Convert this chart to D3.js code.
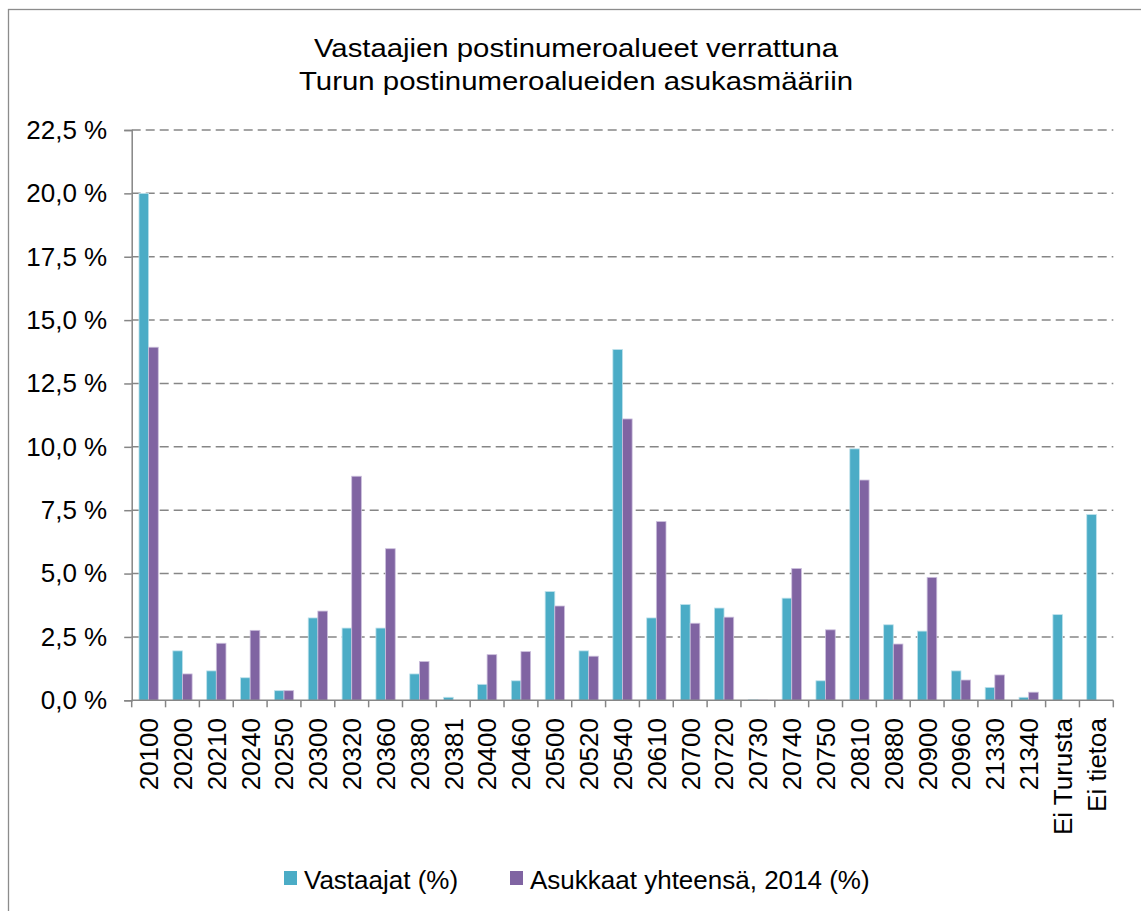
<!DOCTYPE html>
<html>
<head>
<meta charset="utf-8">
<script src="https://cdn.jsdelivr.net/npm/d3@7"></script>
<style>
  html, body { margin: 0; padding: 0; background: #fff; }
  svg { display: block; font-family: "Liberation Sans", Arial, sans-serif; }
</style>
</head>
<body>
<svg id="chart" width="1141" height="911"></svg>
<script>
const titleLines = ["Vastaajien postinumeroalueet verrattuna", "Turun postinumeroalueiden asukasmääriin"];
const categories = ["20100","20200","20210","20240","20250","20300","20320","20360","20380","20381",
  "20400","20460","20500","20520","20540","20610","20700","20720","20730","20740","20750","20810",
  "20880","20900","20960","21330","21340","Ei Turusta","Ei tietoa"];
const seriesNames = ["Vastaajat (%)", "Asukkaat yhteensä, 2014 (%)"];
const vastaajat = [20.0,1.95,1.16,0.89,0.38,3.25,2.85,2.85,1.04,0.12,0.63,0.77,4.29,1.95,13.84,3.25,3.78,3.64,0.02,4.03,0.77,9.92,2.98,2.73,1.16,0.51,0.12,3.38,7.33];
const asukkaat = [13.93,1.04,2.25,2.76,0.38,3.52,8.84,5.98,1.53,0,1.8,1.92,3.72,1.74,11.1,7.05,3.04,3.28,0.01,5.2,2.78,8.69,2.22,4.85,0.8,1.0,0.32,null,null];
const yTicks = [0, 2.5, 5, 7.5, 10, 12.5, 15, 17.5, 20, 22.5];
const colors = ["#4BACC6", "#8064A2"];
const strokes = ["#bfe2ec", "#cbbfdc"];

(function () {
const svg = d3.select("#chart");
const pLeft = 131.7, pRight = 1113.3, pTop = 130, pBottom = 700.3;
const axisColor = "#868686";

// outer border (right/bottom edges fall outside the picture)
svg.append("rect").attr("x", 8.5).attr("y", 9.5).attr("width", 1300).attr("height", 1100)
  .attr("fill", "none").attr("stroke", "#8c8c8c").attr("stroke-width", 1.3);

// title
const titleW = [524, 554];
const titleY = [57, 90];
titleLines.forEach((t, i) => {
  svg.append("text").attr("x", 576).attr("y", titleY[i]).attr("text-anchor", "middle")
    .attr("font-size", 26).attr("fill", "#000")
    .attr("textLength", titleW[i]).attr("lengthAdjust", "spacingAndGlyphs")
    .text(t);
});

const x0 = d3.scaleBand().domain(categories).range([pLeft, pRight]).paddingInner(0.43).paddingOuter(0.215);
const x1 = d3.scaleBand().domain([0, 1]).range([0, x0.bandwidth()]);
const y = d3.scaleLinear().domain([0, 22.5]).range([pBottom, pTop]);
const fmt = v => d3.format(".1f")(v).replace(".", ",") + " %";

// gridlines
svg.append("g").selectAll("line").data(yTicks.filter(d => d > 0)).join("line")
  .attr("x1", pLeft).attr("x2", pRight).attr("y1", d => y(d)).attr("y2", d => y(d))
  .attr("stroke", axisColor).attr("stroke-width", 1.5).attr("stroke-dasharray", "9,5");

// y axis
const yAxis = svg.append("g").attr("transform", `translate(${pLeft},0)`)
  .call(d3.axisLeft(y).tickValues(yTicks).tickSize(7.5).tickPadding(17).tickFormat(fmt));
yAxis.select(".domain").attr("stroke", axisColor).attr("stroke-width", 1.5);
yAxis.selectAll(".tick line").attr("stroke", axisColor).attr("stroke-width", 1.5);
yAxis.selectAll(".tick text").attr("font-size", 26).attr("fill", "#000")
  .attr("font-family", "Liberation Sans, Arial, sans-serif");

// bars
const series = [vastaajat, asukkaat];
series.forEach((vals, s) => {
  svg.append("g").selectAll("rect")
    .data(vals.map((v, i) => ({ c: categories[i], v })).filter(d => d.v !== null))
    .join("rect")
    .attr("x", d => x0(d.c) + x1(s))
    .attr("width", x1.bandwidth())
    .attr("y", d => y(d.v))
    .attr("height", d => Math.max(0, y(0) - y(d.v)))
    .attr("fill", colors[s])
    .attr("stroke", strokes[s]).attr("stroke-width", 0.8);
});

// x axis line & ticks at band boundaries
const xa = svg.append("g");
xa.append("line").attr("x1", pLeft).attr("x2", pRight).attr("y1", pBottom).attr("y2", pBottom)
  .attr("stroke", axisColor).attr("stroke-width", 1.5);
const step = x0.step();
const bounds = d3.range(categories.length + 1).map(i => pLeft + i * step);
xa.selectAll("line.tk").data(bounds).join("line").attr("class", "tk")
  .attr("x1", d => d).attr("x2", d => d).attr("y1", pBottom).attr("y2", pBottom + 7)
  .attr("stroke", axisColor).attr("stroke-width", 1.5);

// x labels rotated
xa.selectAll("text").data(categories).join("text")
  .attr("transform", d => `translate(${x0(d) + x0.bandwidth() / 2},718) rotate(-90)`)
  .attr("text-anchor", "end").attr("dy", "0.36em")
  .attr("font-size", 26).attr("fill", "#000")
  .text(d => d);

// legend
const legendX = [284, 510];
seriesNames.forEach((n, i) => {
  svg.append("rect").attr("x", legendX[i]).attr("y", 871).attr("width", 13).attr("height", 14)
    .attr("fill", colors[i]);
  svg.append("text").attr("x", legendX[i] + 20).attr("y", 889).attr("font-size", 26)
    .attr("fill", "#000").text(n);
});
})();
</script>
</body>
</html>
